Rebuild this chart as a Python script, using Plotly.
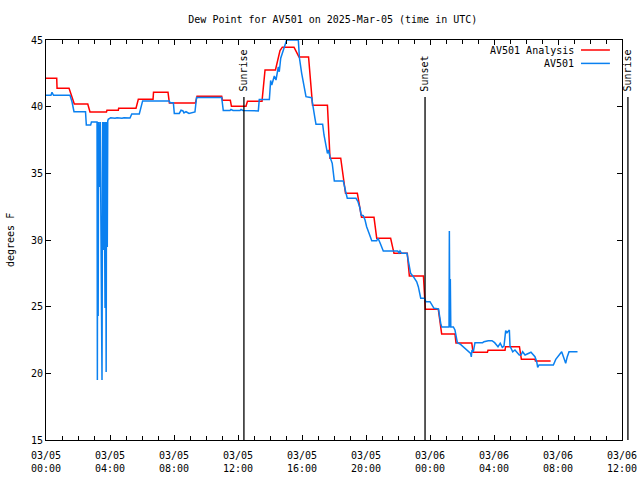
import pandas as pd
import plotly.graph_objects as go

TITLE = "Dew Point for AV501 on 2025-Mar-05 (time in UTC)"
BASE = pd.Timestamp("2025-03-05 00:00")

# AV501 observations: hours after 2025-03-05 00:00 UTC, dew point (F)
blue_hours = [
    0, 0.31, 0.375, 0.47, 1.5, 1.625, 1.75, 2.47, 2.52, 2.79, 2.84, 3.19,
    3.21, 3.23, 3.26, 3.29, 3.34, 3.39, 3.5, 3.54, 3.58, 3.625, 3.69, 3.72, 3.76, 3.79, 3.83, 3.86,
    3.89, 4.04, 4.31, 4.44, 4.75, 4.875, 5.25, 5.36, 5.83, 6.04, 7.71, 7.75, 7.96, 8.02,
    8.33, 8.44, 8.56, 8.625, 8.75, 8.94, 9.19, 9.31, 9.41, 10.98, 11.08, 11.5, 11.56, 11.69,
    12.125, 12.19, 12.31, 13.27, 13.33, 13.96, 14.04, 14.11, 14.27, 14.375, 14.52, 14.58,
    14.67, 14.83, 15.04, 15.77, 15.84, 15.98, 16.08, 16.25, 16.6, 16.71, 16.81, 16.875,
    17.29, 17.375, 17.44, 17.54, 17.59, 17.66, 17.75, 17.89, 17.96, 18.02, 18.58, 18.625,
    18.73, 18.83, 19.375, 19.5, 19.625, 19.69, 19.83, 19.94, 20.04, 20.19, 20.36, 20.67,
    20.75, 20.875, 21.08, 21.98, 22.06, 22.125, 22.23, 22.56, 22.67, 22.79, 22.96, 23.17,
    23.27, 23.42, 23.64, 23.75, 24.0, 24.125, 24.25, 24.53, 24.58, 24.67, 24.73, 25.19,
    25.21, 25.24, 25.27, 25.3, 25.46, 25.56, 25.625, 25.71, 25.875, 26.06, 26.19, 26.375,
    26.54, 26.58, 26.625, 26.71, 26.81, 27.29, 27.375, 27.64, 27.875, 28.04, 28.17, 28.25,
    28.39, 28.52, 28.625, 28.73, 28.81, 28.96, 29.0, 29.17, 29.31, 29.44, 29.58, 29.69,
    29.79, 29.94, 30.125, 30.31, 30.56, 30.67, 30.73, 30.81, 31.71, 31.86, 32.23, 32.33,
    32.48, 32.58, 32.69, 33.22,
]
blue_dewpt = [
    40.85, 40.85, 41.08, 40.85, 40.85, 40.37, 39.62, 39.62, 38.62, 38.62, 38.85, 38.85,
    19.5, 38.85, 24.3, 38.85, 33.97, 38.85, 19.5, 38.85, 29.25, 38.85, 24.9, 38.85, 20.1, 38.85, 29.48, 38.93,
    39.05, 39.17, 39.13, 39.17, 39.13, 39.17, 39.15, 39.45, 39.45, 40.43, 40.43, 40.3, 40.3, 39.49,
    39.49, 39.73, 39.68, 39.53, 39.62, 39.49, 39.6, 39.6, 40.69, 40.69, 39.71, 39.71, 39.79, 39.71,
    39.71, 39.79, 39.71, 39.68, 40.54, 40.54, 41.96, 41.63, 42.3, 42.0, 42.98, 42.62,
    43.63, 44.25, 45.0, 45.0, 43.65, 42.5, 41.75, 40.75, 40.67, 40.0, 39.13, 38.68,
    38.68, 37.875, 37.37, 36.75, 36.49, 36.75, 36.23, 35.75, 35.0, 34.43, 34.43, 34.13,
    33.62, 33.13, 33.13, 32.87, 32.38, 31.875, 31.82, 31.5, 31.0, 30.5, 29.95, 29.95,
    30.13, 29.8, 29.18, 29.18, 29.03, 29.18, 29.0, 29.0, 28.25, 27.5, 27.25, 26.87,
    26.5, 25.63, 25.63, 25.37, 25.37, 25.13, 24.88, 24.83, 24.25, 23.75, 23.48, 23.48,
    30.68, 23.48, 27.08, 23.48, 23.48, 23.25, 22.875, 22.3, 22.2, 22.0, 21.88, 21.67,
    21.5, 21.23, 21.75, 21.62, 22.3, 22.3, 22.37, 22.45, 22.45, 22.3, 22.13, 22.0,
    22.25, 21.95, 22.05, 23.2, 23.05, 23.25, 22.05, 21.62, 21.75, 21.55, 21.375, 21.375,
    21.62, 21.375, 21.45, 21.58, 21.25, 20.87, 20.45, 20.63, 20.63, 21.05, 21.62, 21.25,
    20.75, 21.25, 21.62, 21.62,
]

# AV501 Analysis
red_hours = [
    0, 0.67, 0.69, 1.44, 1.77, 2.61, 2.75, 3.78, 3.81, 4.52, 4.54, 5.625, 5.77, 6.69,
    6.72, 7.625, 7.71, 9.34, 9.44, 10.98, 11.03, 11.52, 11.59, 12.5, 12.59, 13.5, 13.69,
    14.34, 14.625, 14.77, 15.5, 15.81, 16.41, 16.66, 17.59, 17.75, 18.42, 18.72, 19.46,
    19.72, 20.5, 20.67, 21.54, 21.75, 22.58, 22.71, 23.59, 23.71, 24.52, 24.73, 25.56,
    25.625, 26.61, 26.69, 27.59, 27.625, 28.69, 28.72, 29.59, 29.71, 30.56, 30.59, 31.54,
]
red_dewpt = [
    42.13, 42.13, 41.38, 41.38, 40.2, 40.2, 39.6, 39.6, 39.73, 39.73, 39.88, 39.88, 40.55, 40.55,
    41.08, 41.08, 40.28, 40.28, 40.78, 40.78, 40.48, 40.48, 40.03, 40.03, 40.4, 40.4, 42.75,
    42.75, 44.2, 44.46, 44.46, 43.73, 43.73, 40.11, 40.11, 36.13, 36.13, 33.5, 33.5,
    31.7, 31.7, 30.13, 30.13, 29.0, 29.0, 27.3, 27.3, 24.8, 24.8, 22.95, 22.95,
    22.28, 22.28, 21.58, 21.58, 21.73, 21.73, 22.0, 22.0, 21.06, 21.06, 20.93, 20.93,
]

# Sun events (hours after 2025-03-05 00:00 UTC)
sun_labels = ["Sunrise", "Sunset", "Sunrise"]
sun_hours = [12.37, 23.69, 36.37]

X_START_H, X_END_H = 0, 36
Y_RANGE = [15, 45]

assert len(blue_hours) == len(blue_dewpt)
assert len(red_hours) == len(red_dewpt)

def to_time(hours):
    return [BASE + pd.Timedelta(hours=h) for h in hours]

FONT = "DejaVu Sans Mono"
RED = "#ff0000"
BLUE = "#0a80f0"

fig = go.Figure()
fig.add_trace(go.Scatter(x=to_time(red_hours), y=red_dewpt, mode="lines",
                         line=dict(color=RED, width=1.5), name="AV501 Analysis",
                         showlegend=False))
fig.add_trace(go.Scatter(x=to_time(blue_hours), y=blue_dewpt, mode="lines",
                         line=dict(color=BLUE, width=1.5), name="AV501",
                         showlegend=False))

shapes = []
annotations = []
span = X_END_H - X_START_H
for lab, h in zip(sun_labels, sun_hours):
    px = (h - X_START_H) / span
    shapes.append(dict(type="line", xref="paper", yref="paper", x0=px, x1=px,
                       y0=0, y1=0.8575, line=dict(color="black", width=1.3)))
    annotations.append(dict(text=lab, xref="paper", yref="paper", x=px, y=0.866,
                            xanchor="center", yanchor="bottom", textangle=-90,
                            showarrow=False, font=dict(family=FONT, size=10, color="black")))

# legend drawn gnuplot-style (text then sample)
for i, (name, col) in enumerate([("AV501 Analysis", RED), ("AV501", BLUE)]):
    yy = 0.975 - i * 0.0335
    annotations.append(dict(text=name, xref="paper", yref="paper", x=0.92, y=yy,
                            xanchor="right", yanchor="middle", showarrow=False,
                            font=dict(family=FONT, size=10, color="black")))
    shapes.append(dict(type="line", xref="paper", yref="paper", x0=0.9288, x1=0.979,
                       y0=yy, y1=yy, line=dict(color=col, width=1.5)))

annotations.append(dict(text="degrees F", xref="paper", yref="paper", x=-0.0625, y=0.5,
                        xanchor="center", yanchor="middle", textangle=-90, showarrow=False,
                        font=dict(family=FONT, size=10, color="black")))

fig.update_layout(
    width=640, height=480,
    margin=dict(l=46, r=18, t=40, b=40, autoexpand=False),
    paper_bgcolor="white", plot_bgcolor="white",
    font=dict(family=FONT, size=10, color="black"),
    title=dict(text=TITLE, x=0.52, xanchor="center", y=0.96, yanchor="middle",
               font=dict(family=FONT, size=10, color="black")),
    shapes=shapes, annotations=annotations,
    showlegend=False,
    xaxis=dict(
        type="date", automargin=False,
        range=[BASE + pd.Timedelta(hours=X_START_H), BASE + pd.Timedelta(hours=X_END_H)],
        tick0=BASE, dtick=4 * 3600 * 1000,
        tickformat="%m/%d<br>%H:%M",
        ticks="inside", ticklen=5, tickcolor="black",
        ticklabelstandoff=6,
        showline=True, linecolor="black", linewidth=1, mirror="allticks",
        showgrid=False, zeroline=False,
        minor=dict(dtick=3600 * 1000, ticks="inside", ticklen=4, tickcolor="black", showgrid=False),
        tickfont=dict(family=FONT, size=10),
    ),
    yaxis=dict(
        range=Y_RANGE, dtick=5, tick0=15, automargin=False,
        ticks="inside", ticklen=5, tickcolor="black",
        showline=True, linecolor="black", linewidth=1, mirror="allticks",
        showgrid=False, zeroline=False,
        tickfont=dict(family=FONT, size=10),
    ),
)

fig.write_html("out.html")
